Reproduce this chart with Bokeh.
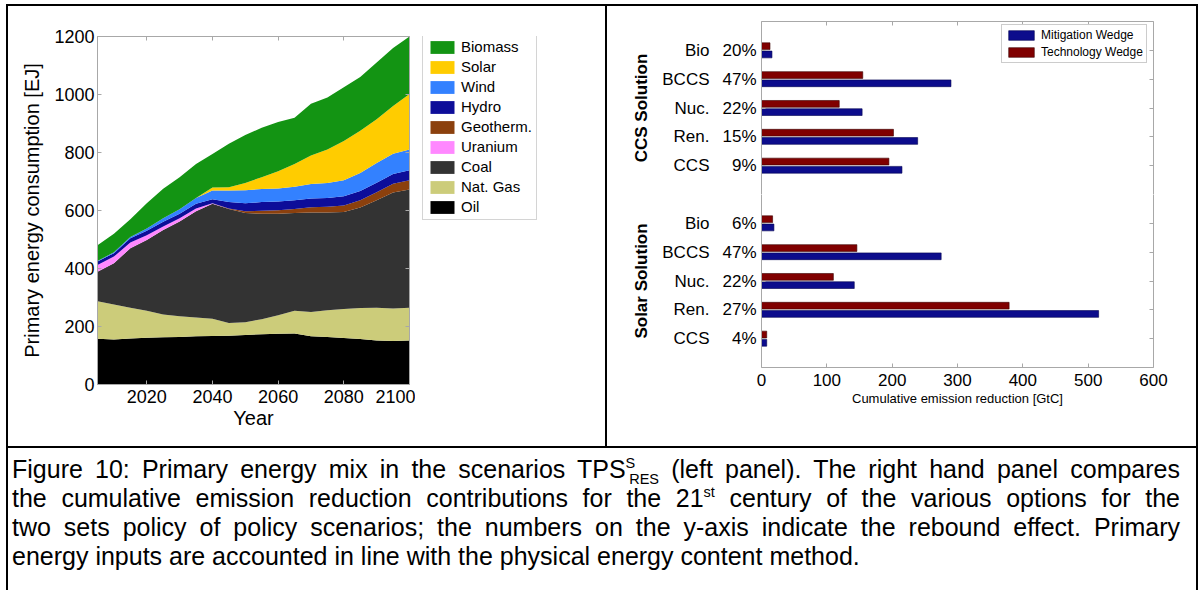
from bokeh.plotting import figure
from bokeh.models import (ColumnDataSource, Legend, LegendItem, LinearAxis,
                          FixedTicker, Range1d, Div)
from bokeh.layouts import row, column
from bokeh.transform import dodge
from bokeh.embed import file_html
from bokeh.resources import INLINE

FONT = "Liberation Sans"
AXC = "#a8a8a8"

# ---------------- left panel data (EJ) ----------------
years = [2005, 2010, 2015, 2020, 2025, 2030, 2035, 2040, 2045, 2050,
         2055, 2060, 2065, 2070, 2075, 2080, 2085, 2090, 2095, 2100]
oil = [158, 155, 159, 161, 163, 164, 166, 167, 168, 171,
       173, 175, 176, 166, 164, 160, 157, 152, 150, 152]
nat_gas = [129, 121, 106, 93, 78, 71, 65, 60, 44, 44,
           52, 64, 78, 84, 92, 100, 107, 113, 112, 113]
coal = [102, 142, 205, 244, 292, 327, 366, 396, 393, 376,
        364, 350, 337, 343, 337, 335, 346, 370, 400, 407]
uranium = [23, 23, 20, 17, 12, 11, 10, 2, 0, 0,
           0, 0, 0, 0, 0, 0, 0, 0, 0, 0]
geotherm = [0, 0, 0, 0, 0, 0, 0, 0, 2, 6,
            10, 12, 14, 18, 20, 22, 25, 28, 30, 32]
hydro = [12, 12, 14, 15, 16, 16, 16, 14, 22, 28,
         30, 30, 30, 30, 30, 32, 32, 33, 34, 35]
wind = [2, 3, 5, 8, 12, 15, 20, 30, 40, 45,
        45, 45, 47, 50, 52, 55, 62, 68, 70, 71]
solar = [0, 0, 0, 0, 0, 0, 0, 10, 11, 25,
         41, 59, 78, 99, 115, 136, 146, 151, 164, 192]
biomass = [54, 64, 61, 87, 102, 111, 117, 116, 150, 165,
           170, 170, 160, 178, 180, 185, 185, 195, 200, 198]

source_names = ["Oil", "Nat. Gas", "Coal", "Uranium", "Geotherm.",
                "Hydro", "Wind", "Solar", "Biomass"]
source_keys = ["oil", "nat_gas", "coal", "uranium", "geotherm",
               "hydro", "wind", "solar", "biomass"]
source_colors = ["#000000", "#cccc7a", "#333333", "#ff88ff", "#8b400d",
                 "#0d0d99", "#3381ff", "#ffcc00", "#139413"]

# ---------------- right panel data (GtC) ----------------
techs = ["Bio", "BCCS", "Nuc.", "Ren.", "CCS"]
ccs_rebound = ["20%", "47%", "22%", "15%", "9%"]
ccs_mitigation = [16, 290, 154, 239, 215]
ccs_technology = [13, 155, 119, 202, 195]
solar_rebound = ["6%", "47%", "22%", "27%", "4%"]
solar_mitigation = [19, 275, 142, 516, 8]
solar_technology = [17, 146, 110, 379, 8]
x_ticks = [0, 100, 200, 300, 400, 500, 600]

BLUE = "#0c0c8c"
RED = "#800000"


def style_axis(ax, size="18px", labels=True):
    ax.axis_line_color = AXC
    ax.major_tick_line_color = AXC
    ax.major_tick_in = 4
    ax.major_tick_out = 0
    ax.minor_tick_line_color = None
    ax.major_label_text_font = FONT
    ax.major_label_text_color = "#000000"
    ax.axis_label_text_font = FONT
    ax.axis_label_text_color = "#000000"
    ax.axis_label_text_font_style = "normal"
    if labels:
        ax.major_label_text_font_size = size
    else:
        ax.major_label_text_font_size = "1px"
        ax.major_label_text_color = None
        ax.major_label_standoff = 0


# ================= left figure =================
src = ColumnDataSource(dict(year=years, oil=oil, nat_gas=nat_gas, coal=coal,
                            uranium=uranium, geotherm=geotherm, hydro=hydro,
                            wind=wind, solar=solar, biomass=biomass))

pl = figure(width=407, height=440, x_range=Range1d(2005, 2100),
            y_range=Range1d(0, 1200), output_backend="svg",
            toolbar_location=None, min_border_left=89, min_border_right=6,
            min_border_top=30, min_border_bottom=62)
pl.background_fill_color = "white"
pl.border_fill_color = "white"
pl.outline_line_color = AXC
pl.grid.visible = False

pl.varea_stack(stackers=source_keys, x="year", color=source_colors,
               source=src)

style_axis(pl.xaxis[0], "18px")
style_axis(pl.yaxis[0], "18px")
pl.xaxis.ticker = FixedTicker(ticks=[2020, 2040, 2060, 2080, 2100])
pl.yaxis.ticker = FixedTicker(ticks=[0, 200, 400, 600, 800, 1000, 1200])
pl.xaxis.axis_label = "Year"
pl.yaxis.axis_label = "Primary energy consumption [EJ]"
pl.xaxis.axis_label_text_font_size = "20px"
pl.yaxis.axis_label_text_font_size = "20px"
pl.xaxis.major_label_standoff = 5
pl.xaxis.axis_label_standoff = 1
pl.yaxis.major_label_standoff = 3
pl.yaxis.axis_label_standoff = 8

ax_top = LinearAxis(ticker=FixedTicker(ticks=[2020, 2040, 2060, 2080]))
style_axis(ax_top, labels=False)
pl.add_layout(ax_top, "above")
ax_right = LinearAxis(ticker=FixedTicker(ticks=[200, 400, 600, 800, 1000]))
style_axis(ax_right, labels=False)
pl.add_layout(ax_right, "right")

# legend lives in its own small figure to the right of the plot
lf = figure(width=190, height=440, x_range=Range1d(0, 1), y_range=Range1d(0, 1),
            output_backend="svg", toolbar_location=None, min_border=0,
            x_axis_location=None, y_axis_location=None)
lf.outline_line_color = None
lf.grid.visible = False
lf.background_fill_color = "white"
lf.border_fill_color = "white"
rs = lf.varea_stack(stackers=source_keys, x="year", color=source_colors,
                    source=src)
items = [LegendItem(label=n, renderers=[r])
         for n, r in zip(source_names, rs)][::-1]
leg = Legend(items=items, location=(7, 164))
leg.label_text_font = FONT
leg.label_text_font_size = "15px"
leg.label_text_color = "#000000"
leg.glyph_width = 30
leg.glyph_height = 16
leg.label_height = 16
leg.spacing = 3
leg.padding = 4
leg.label_standoff = 4
leg.margin = 0
leg.border_line_color = "#aaaaaa"
leg.background_fill_color = "white"
lf.add_layout(leg)

# ================= right figures =================
x_range = Range1d(0, 600)


def bar_panel(title, rebound, mit, tech, y0, height, top):
    rows = [y0 + len(techs) - i for i in range(len(techs))]
    p = figure(width=589, height=height, x_range=x_range,
               y_range=Range1d(y0, y0 + 6), output_backend="svg",
               toolbar_location=None,
               x_axis_location="above" if top else "below",
               min_border_left=154, min_border_right=43,
               min_border_top=15 if top else 0,
               min_border_bottom=0 if top else 79)
    p.outline_line_color = None
    p.grid.visible = False
    p.background_fill_color = "white"
    p.border_fill_color = "white"
    s = ColumnDataSource(dict(y=rows, mit=mit, tech=tech))
    rb = p.hbar(y=dodge("y", -0.143), left=0, right="mit", height=0.235,
                fill_color=BLUE, line_color="#000050", line_width=0.6,
                source=s)
    rr = p.hbar(y=dodge("y", 0.143), left=0, right="tech", height=0.235,
                fill_color=RED, line_color="#3a0000", line_width=0.6,
                source=s)

    xa = p.xaxis[0]
    xa.ticker = FixedTicker(ticks=x_ticks)
    if top:
        style_axis(xa, labels=False)
    else:
        style_axis(xa, "17px")
        xa.major_label_standoff = 6
        xa.axis_label = "Cumulative emission reduction [GtC]"
        xa.axis_label_text_font_size = "13px"
        xa.axis_label_standoff = 2

    ya = p.yaxis[0]
    style_axis(ya, "17px")
    ya.ticker = FixedTicker(ticks=rows)
    ya.major_label_overrides = {r: t for r, t in zip(rows, rebound)}
    ya.major_label_standoff = 5

    na = LinearAxis(ticker=FixedTicker(ticks=rows))
    style_axis(na, "17px")
    na.axis_line_color = None
    na.major_tick_line_color = None
    na.major_label_overrides = {r: t for r, t in zip(rows, techs)}
    na.major_label_standoff = 10
    na.axis_label = title
    na.axis_label_text_font_size = "17px"
    na.axis_label_text_font_style = "bold"
    na.axis_label_standoff = 8
    p.add_layout(na, "left")

    ra = LinearAxis(ticker=FixedTicker(ticks=rows))
    style_axis(ra, labels=False)
    p.add_layout(ra, "right")

    if top:
        lg = Legend(items=[LegendItem(label="Mitigation Wedge", renderers=[rb]),
                           LegendItem(label="Technology Wedge", renderers=[rr])],
                    location=(240, 131))
        lg.label_text_font = FONT
        lg.label_text_font_size = "12px"
        lg.label_text_color = "#000000"
        lg.glyph_width = 32
        lg.glyph_height = 12
        lg.label_height = 12
        lg.spacing = 3
        lg.padding = 3
        lg.label_standoff = 4
        lg.margin = 0
        lg.border_line_color = "#999999"
        p.add_layout(lg)
    return p


pr_top = bar_panel("CCS Solution", ccs_rebound, ccs_mitigation,
                   ccs_technology, 6, 188, True)
pr_bot = bar_panel("Solar Solution", solar_rebound, solar_mitigation,
                   solar_technology, 0, 252, False)

# ================= frame lines and caption =================


def black(w, h):
    return Div(width=w, height=h, margin=0,
               styles={"background-color": "black"})


def blank(w, h):
    return Div(width=w, height=h, margin=0)


SUP = "font-size:58%;line-height:0;vertical-align:0.72em"
SUB = "font-size:58%;line-height:0;vertical-align:-0.38em;margin-left:-0.42em"
cap_lines = [
    "Figure 10: Primary energy mix in the scenarios TPS"
    "<sup style='%s'>S</sup><sub style='%s'>RES</sub>"
    " (left panel). The right hand panel compares" % (SUP, SUB),
    "the cumulative emission reduction contributions for the 21"
    "<sup style='%s'>st</sup>"
    " century of the various options for the" % SUP,
    "two sets policy of policy scenarios; the numbers on the y-axis "
    "indicate the rebound effect. Primary",
    "energy inputs are accounted in line with the physical energy content method.",
]
inner = "".join(
    "<div style='text-align:justify;text-align-last:justify'>%s</div>" % l
    for l in cap_lines[:-1])
inner += "<div>%s</div>" % cap_lines[-1]
cap_html = ("<div style=\"font-family:'Liberation Sans',Arial,sans-serif;"
            "font-size:25px;line-height:29px;color:#000;"
            "padding:7px 6px 0 4px;width:1178px;\">%s</div>" % inner)
caption = Div(text=cap_html, width=1188, height=142, margin=0)

framed = column(
    black(1192, 2),
    row(black(2, 440), pl, lf, black(2, 440),
        column(pr_top, pr_bot, spacing=0), black(2, 440), spacing=0),
    black(1192, 2),
    row(black(2, 142), caption, black(2, 142), spacing=0),
    spacing=0,
)
layout = column(blank(1198, 4), row(blank(6, 586), framed, spacing=0),
                spacing=0)

open("out.html", "w").write(file_html(layout, INLINE))
